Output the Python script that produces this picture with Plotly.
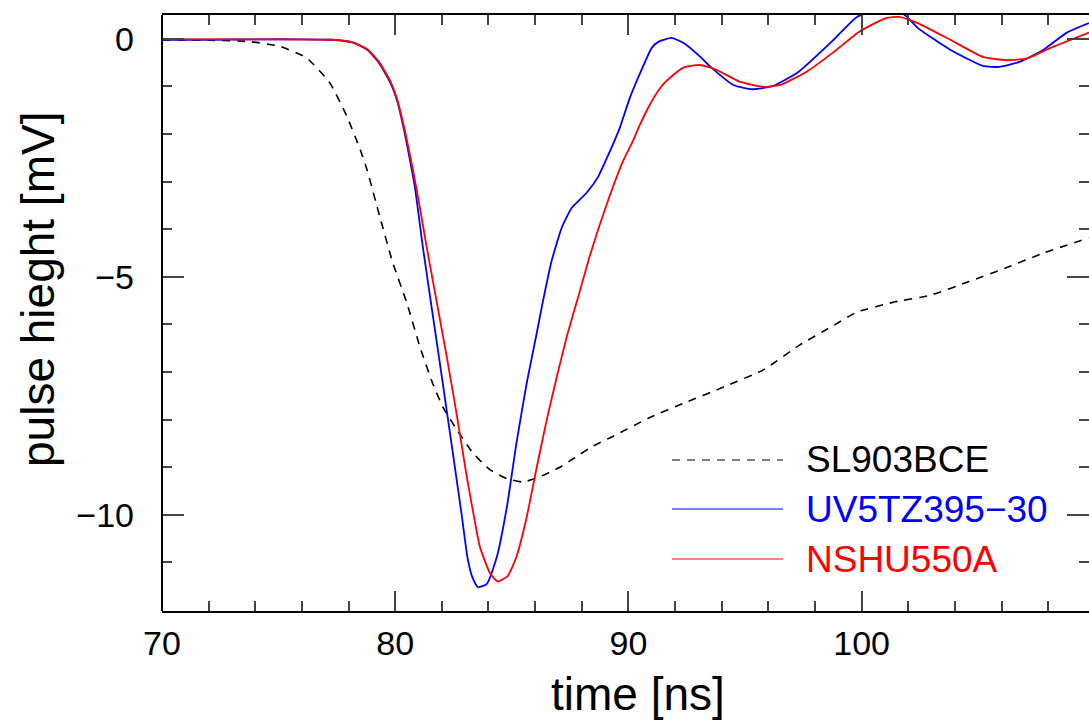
import plotly.graph_objects as go

# ---- data ----
t_sl = [70.0, 72.0, 73.77, 75.06, 76.2, 77.2, 77.93, 78.5, 78.79, 79.34, 79.9, 80.5, 81.06, 81.6,
        82.04, 82.64, 83.33, 84.06, 84.79, 85.47, 86.2, 87.06, 87.7, 88.5, 89.3, 90.9, 92.5, 94.1,
        95.8, 97.35, 98.7, 99.8, 101.4, 103.0, 104.6, 106.2, 107.8, 109.75]
v_sl = [-0.03, -0.03, -0.06, -0.16, -0.4, -0.93, -1.63, -2.33, -2.75, -3.74, -4.71, -5.55, -6.47, -7.23,
        -7.73, -8.21, -8.7, -9.05, -9.24, -9.31, -9.2, -9.0, -8.8, -8.55, -8.36, -7.96, -7.63, -7.31,
        -6.95, -6.43, -6.05, -5.74, -5.53, -5.38, -5.1, -4.81, -4.5, -4.18]

t_uv = [70.0, 72.0, 74.0, 76.0, 77.3, 78.2, 78.8, 79.3, 79.8, 80.07, 80.35, 80.63, 80.84, 81.19, 81.55,
        82.0, 82.5, 82.85, 83.1, 83.3, 83.55, 83.93, 84.36, 84.79, 85.2, 85.64, 86.07, 86.3, 86.7,
        87.14, 87.57, 88.2, 88.7, 89.2, 89.63, 90.06, 90.6, 91.0, 91.3, 91.86, 92.4, 93.06, 93.5,
        94.5, 95.3, 96.2, 97.3, 98.8, 99.8, 100.8, 101.5, 101.9, 102.4, 103.8, 105.2, 105.9, 106.8,
        107.8, 108.8, 109.75]
v_uv = [-0.02, -0.02, -0.01, -0.01, -0.02, -0.08, -0.23, -0.5, -0.93, -1.28, -1.85, -2.54, -3.1, -4.39, -5.6,
        -7.1, -8.8, -10.0, -10.9, -11.3, -11.52, -11.45, -10.88, -9.83, -8.49, -7.23, -6.18, -5.6, -4.68,
        -3.97, -3.55, -3.24, -2.9, -2.37, -1.87, -1.24, -0.61, -0.19, -0.06, 0.02, -0.1, -0.37, -0.58,
        -0.97, -1.06, -0.99, -0.69, -0.02, 0.46, 0.62, 0.58, 0.48, 0.23, -0.23, -0.57, -0.59, -0.48,
        -0.23, 0.13, 0.33]

t_ns = [70.0, 74.0, 77.3, 78.2, 78.8, 79.3, 79.8, 80.07, 80.4, 80.76, 81.06, 81.34, 81.77, 82.2, 82.64,
        83.07, 83.4, 83.63, 84.06, 84.4, 84.83, 85.2, 85.64, 86.07, 86.5, 86.93, 87.36, 87.83, 88.35,
        89.06, 89.76, 90.19, 90.49, 90.9, 91.34, 91.6, 92.33, 93.06, 93.77, 94.77, 95.77, 96.5, 97.64,
        98.77, 99.9, 101.07, 101.6, 102.4, 103.8, 105.2, 106.2, 107.1, 108.06, 109.75]
v_ns = [-0.01, -0.01, -0.02, -0.08, -0.22, -0.48, -0.9, -1.25, -1.9, -2.75, -3.55, -4.35, -5.5, -6.65, -7.9,
        -9.2, -10.1, -10.67, -11.22, -11.4, -11.28, -10.88, -10.04, -9.0, -8.0, -7.1, -6.25, -5.45, -4.55,
        -3.49, -2.58, -2.15, -1.81, -1.4, -1.05, -0.9, -0.61, -0.55, -0.65, -0.9, -1.01, -0.97, -0.69,
        -0.29, 0.15, 0.44, 0.46, 0.33, -0.02, -0.38, -0.45, -0.41, -0.2, 0.13]

series_names = ["SL903BCE", "UV5TZ395\u221230", "NSHU550A"]
series_colors = ["black", "#0000ff", "#ff0000"]
x_tick_vals = [70, 80, 90, 100, 110]
y_tick_vals = [0, -5, -10]

FONT = "Liberation Sans, Arial, Helvetica, sans-serif"

fig = go.Figure()
fig.add_trace(go.Scatter(x=t_sl, y=v_sl, mode="lines", name=series_names[0],
                         line=dict(color=series_colors[0], width=1.6, dash="8px,7px", shape="spline", smoothing=0.5),
                         showlegend=False))
fig.add_trace(go.Scatter(x=t_uv, y=v_uv, mode="lines", name=series_names[1],
                         line=dict(color=series_colors[1], width=1.8, shape="spline", smoothing=0.5),
                         showlegend=False))
fig.add_trace(go.Scatter(x=t_ns, y=v_ns, mode="lines", name=series_names[2],
                         line=dict(color=series_colors[2], width=1.8, shape="spline", smoothing=0.5),
                         showlegend=False))

W, H = 1089, 720
PL, PT, PB = 162, 15, 611          # plot-area edges in pixels
L, T, B = PL, PT, H - PB
PW = W - L
PH = H - T - B

def px(x):
    return (x - PL) / PW

def py(y):
    return (PB - y) / PH

# manual legend
leg_rows = [460, 509, 559]
leg_dash = ["8px,7px", "solid", "solid"]
for i in range(3):
    fig.add_shape(type="line", xref="paper", yref="paper",
                  x0=px(672), x1=px(783), y0=py(leg_rows[i]), y1=py(leg_rows[i]),
                  line=dict(color=series_colors[i], width=1.1, dash=leg_dash[i]))
    fig.add_annotation(xref="paper", yref="paper", x=px(804), y=py(leg_rows[i]),
                       xanchor="left", yanchor="middle", showarrow=False,
                       text=series_names[i], font=dict(family=FONT, size=37, color=series_colors[i]))

# axis titles
fig.add_annotation(xref="paper", yref="paper", x=px(638), y=py(694), xanchor="center", yanchor="middle",
                   showarrow=False, text="time [ns]", font=dict(family=FONT, size=46, color="black"))
fig.add_annotation(xref="paper", yref="paper", x=px(38), y=py(290), xanchor="center", yanchor="middle",
                   showarrow=False, text="pulse hieght [mV]", textangle=-90,
                   font=dict(family=FONT, size=46, color="black"))

# left axis line
fig.add_shape(type="line", xref="paper", yref="paper", x0=0, x1=0, y0=0, y1=1,
              line=dict(color="black", width=2))

fig.update_layout(
    width=W, height=H, autosize=False,
    margin=dict(l=L, r=0, t=T, b=B),
    paper_bgcolor="white", plot_bgcolor="white",
    font=dict(family=FONT, size=34, color="black"),
    showlegend=False,
)
fig.update_xaxes(range=[70, 109.75], tickvals=x_tick_vals, ticks="inside", ticklen=20, tickwidth=1.5,
                 tickcolor="#444", showline=True, linecolor="black", linewidth=2, mirror="ticks",
                 showgrid=False, zeroline=False, ticklabelstandoff=1,
                 tickfont=dict(family=FONT, size=34, color="black"),
                 minor=dict(dtick=2, tick0=70, ticks="inside", ticklen=10, tickwidth=1.5, tickcolor="#444",
                            showgrid=False))
fig.update_yaxes(range=[-12.02, 0.5], tickvals=y_tick_vals, ticks="inside", ticklen=22, tickwidth=1.5,
                 tickcolor="#444", showline=False, mirror="ticks",
                 showgrid=False, zeroline=False, ticklabelstandoff=27,
                 tickfont=dict(family=FONT, size=34, color="black"),
                 minor=dict(dtick=1, tick0=0, ticks="inside", ticklen=10, tickwidth=1.5, tickcolor="#444",
                            showgrid=False))

fig.write_html("out.html", config={"displayModeBar": False},
               post_script="document.body.style.margin='0';")
